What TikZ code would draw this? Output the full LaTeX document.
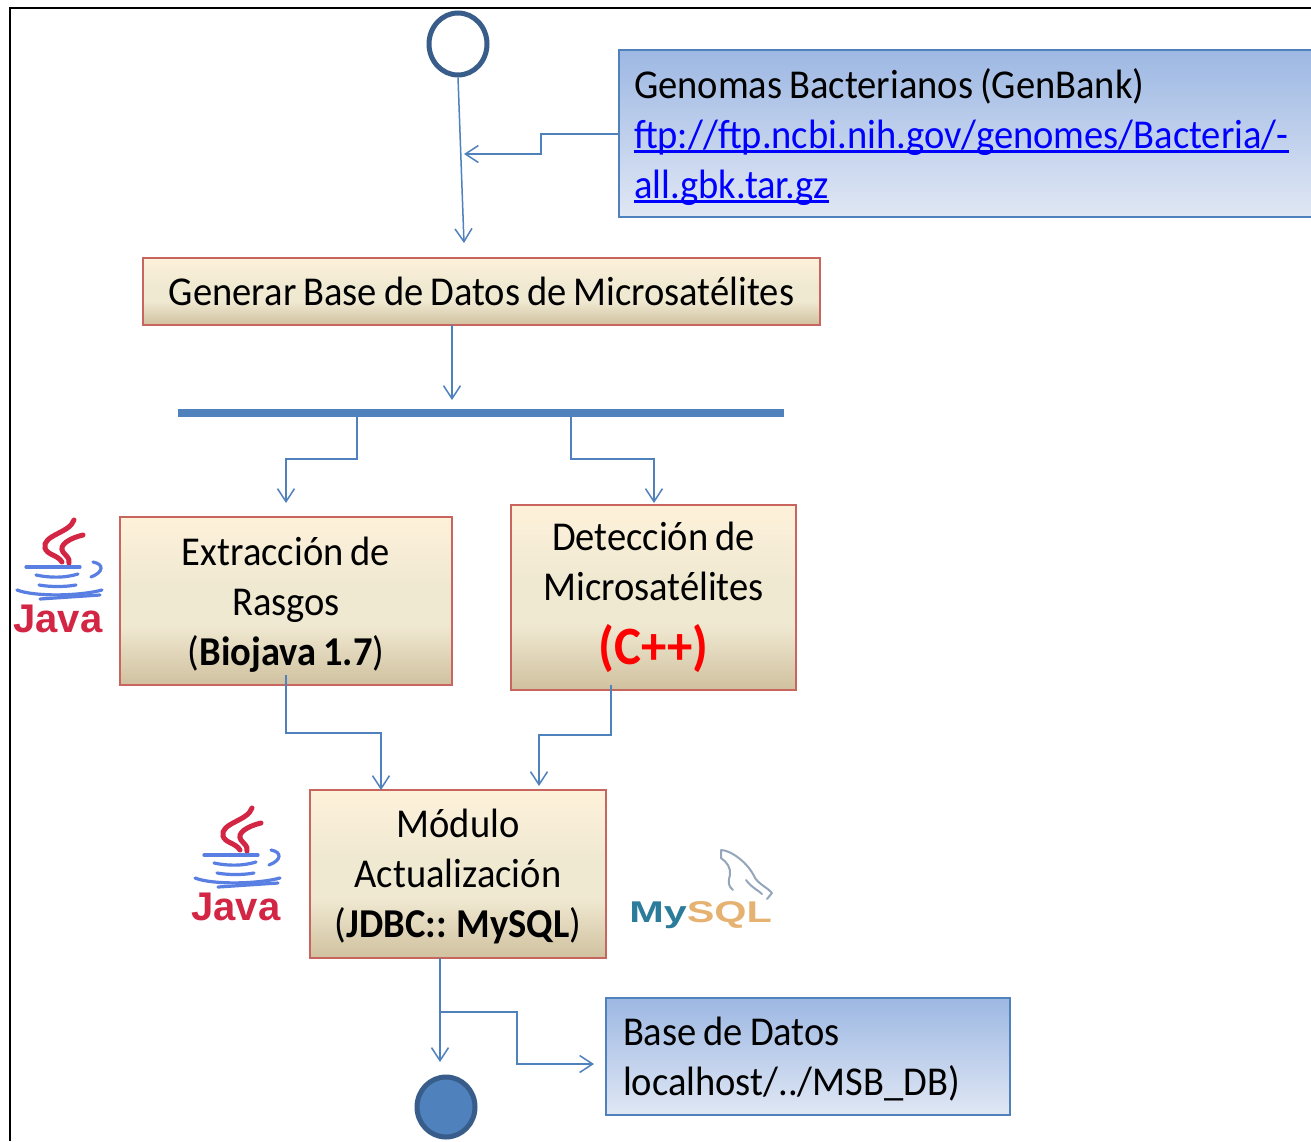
\documentclass[tikz,border=0pt]{standalone}
\usepackage{fontspec}
\setmainfont[FakeStretch=0.94,WordSpace=0.8]{Carlito}
\newfontfamily\logofont{Liberation Sans}
\usetikzlibrary{arrows.meta,shapes.geometric}
\definecolor{flowblue}{HTML}{4F81BD}
\definecolor{ringblue}{HTML}{385D8A}
\definecolor{beigeedge}{HTML}{C9655F}
\definecolor{javared}{HTML}{D32645}
\definecolor{javablue}{HTML}{5A7FE2}
\definecolor{linkblue}{HTML}{0000FF}
\definecolor{beigetop}{HTML}{FEF1DA}
\definecolor{beigemid}{HTML}{F0E9D2}
\definecolor{beigebot}{HTML}{D0C19F}
\definecolor{bluetop}{HTML}{9DB8E3}
\definecolor{bluebot}{HTML}{E0E7F4}
\pgfdeclareverticalshading{beigefill}{100bp}{
  color(0bp)=(beigebot); color(25bp)=(beigebot); color(43bp)=(beigemid); color(55bp)=(beigemid); color(75bp)=(beigetop); color(100bp)=(beigetop)}
\newcommand{\linkul}[1]{\setbox0=\hbox{#1}\rlap{\rule[-4.5pt]{\wd0}{2.6pt}}\box0}
\newcommand{\firstline}[1]{\rule{0pt}{#1pt}}
\tikzset{
  flow/.style={draw=flowblue,line width=1.5pt,-{Straight Barb[length=13pt,width=17pt,line width=1.5pt]}},
  action/.style={draw=beigeedge,line width=2pt,outer sep=0pt,shade,shading=beigefill,inner sep=0pt,align=center,anchor=north west,
     font=\fontsize{41}{50}\selectfont},
  store/.style={draw=flowblue,line width=2pt,outer sep=0pt,top color=bluetop,bottom color=bluebot,inner sep=0pt,align=flush left,anchor=north west,
     font=\fontsize{41}{50}\selectfont},
  steam/.style={draw=javared,line width=5pt,line cap=round},
  cup/.style={draw=javablue,line width=3.2pt,line cap=round},
  javalogo/.pic={
    \draw[steam] (74,520) .. controls (70,533) and (42,535) .. (45,548) .. controls (47,555) and (58,555) .. (62,562);
    \draw[steam] (83,535) .. controls (70,538) and (58,545) .. (63,552) .. controls (66,556) and (70,558) .. (69,563);
    \draw[cup] (26,567) -- (80,567);
    \draw[cup] (36,575) .. controls (50,578) and (65,578) .. (78,574);
    \draw[cup] (39,585) .. controls (50,587) and (65,587) .. (76,585);
    \draw[cup] (17,590) .. controls (35,597) and (80,596) .. (102,590);
    \draw[cup] (40,599) -- (100,595);
    \draw[cup] (93,562) .. controls (104,564) and (104,572) .. (91,577);
    \node[font=\logofont\bfseries\fontsize{40}{40}\selectfont,text=javared,inner sep=0pt] at (58,619) {Java};
  }
}
\begin{document}
\begin{tikzpicture}[x=1pt,y=-1pt]
\useasboundingbox (0,0) rectangle (1311,1141);
\fill[white] (0,0) rectangle (1311,1141);
\draw[black,line width=2.4pt] (1311,8) -- (10,8) -- (10,1141);

% boxes
\node[store,minimum width=700pt,minimum height=167pt,text width=670pt,inner xsep=15pt] (genomes) at (619,50)
  {\firstline{37}Genomas Bacterianos (GenBank)\\\textcolor{linkblue}{\linkul{ftp://ftp.ncbi.nih.gov/genomes/Bacteria/-}}\\\textcolor{linkblue}{\linkul{all.gbk.tar.gz}}};
\node[action,minimum width=677pt,minimum height=67pt] (gen) at (143,258) {Generar Base de Datos de Microsatélites};
\node[fill=flowblue,inner sep=0pt,outer sep=0pt,minimum width=606pt,minimum height=8pt,anchor=north west] (bar) at (178,409) {};
\node[action,minimum width=332pt,minimum height=168pt] (ext) at (120,517) {\firstline{36}Extracción de\\Rasgos\\(\textbf{Biojava 1.7})};
\node[action,minimum width=285pt,minimum height=185pt] (det) at (511,505) {Detección de\\Microsatélites\\[14pt]\textcolor{red}{\fontsize{54}{50}\selectfont\textbf{(C++)}}};
\node[action,minimum width=296pt,minimum height=168pt] (mod) at (310,790) {\firstline{34}Módulo\\Actualización\\(\textbf{JDBC:: MySQL})};
\node[store,minimum width=404pt,minimum height=117pt,text width=370pt,inner xsep=17pt] (db) at (606,998) {\firstline{34}Base de Datos\\localhost/../MSB\_DB)};

% start and end
\node[ellipse,draw=ringblue,line width=5pt,fill=white,minimum width=58pt,minimum height=62pt,inner sep=0pt] (start) at (458,44) {};
\node[ellipse,draw=ringblue,line width=5pt,fill=flowblue,minimum width=58pt,minimum height=60pt,inner sep=0pt] (end) at (446,1107) {};

% free ends
\coordinate (gentop) at (464,243);
\coordinate (joinpt) at (464,154);
\coordinate (extin) at (286,503);
\coordinate (detin) at (654,503);
\coordinate (modl) at (381,790);
\coordinate (modr) at (539,786);
\coordinate (endin) at (440,1062);
\coordinate (dbin) at (594,1064);
\coordinate (branch) at (440,1012);

% connectors
\draw[flow] (start.south) -- (gentop);
\draw[flow] (genomes.west |- 0,134) -- (541,134) -- (541,154) -- (joinpt);
\draw[flow] (gen.south -| 452,0) -- (452,400);
\draw[flow] (bar.south -| 357,0) -- (357,459) -- (286,459) -- (extin);
\draw[flow] (bar.south -| 571,0) -- (571,459) -- (654,459) -- (detin);
\draw[flow,shorten <=-10pt] (ext.south -| 286,0) -- (286,733) -- (381,733) -- (modl);
\draw[flow,shorten <=-5pt] (det.south -| 611,0) -- (611,735) -- (539,735) -- (modr);
\draw[flow] (mod.south -| endin) -- (endin);
\draw[flow] (branch) -- (517,1012) -- (517,1064) -- (dbin);

% logos
\pic at (0,0) {javalogo};
\pic at (178,288) {javalogo};

% MySQL logo
\node[anchor=base west,inner sep=0pt,xscale=1.38,font=\logofont\bfseries\fontsize{30}{30}\selectfont] (mysql) at (629,922) {\textcolor[HTML]{2B7C9B}{My}\textcolor[HTML]{E6B272}{SQL}};
\draw[draw=flowblue!50!gray!70!white,line width=2pt,line cap=round,line join=round]
  (721,850) .. controls (730,850) and (748,862) .. (755,878) .. controls (760,885) and (768,888) .. (772,893) -- (767,899)
  (721,850) -- (721,858) .. controls (727,862) and (731,868) .. (730,875) .. controls (728,882) and (728,886) .. (733,890)
  (746,880) .. controls (752,888) and (758,890) .. (762,894);
\end{tikzpicture}
\end{document}
